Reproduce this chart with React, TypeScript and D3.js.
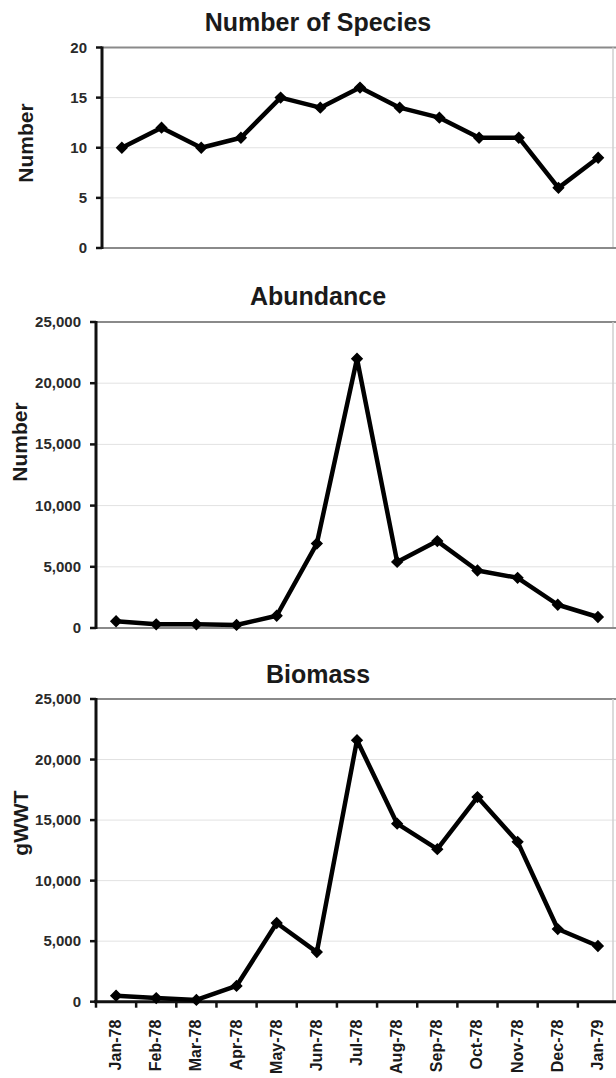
import React from "react";
import * as d3 from "d3";

const months = ["Jan-78", "Feb-78", "Mar-78", "Apr-78", "May-78", "Jun-78", "Jul-78", "Aug-78", "Sep-78", "Oct-78", "Nov-78", "Dec-78", "Jan-79"];
const species = [10, 12, 10, 11, 15, 14, 16, 14, 13, 11, 11, 6, 9];
const abundance = [550, 300, 300, 250, 1000, 6900, 22000, 5400, 7100, 4700, 4100, 1900, 900];
const biomass = [500, 300, 150, 1300, 6500, 4100, 21600, 14700, 12600, 16900, 13200, 6000, 4600];

const speciesTicks = [0, 5, 10, 15, 20];
const bigTicks = [0, 5000, 10000, 15000, 20000, 25000];

const FONT = "'Liberation Sans', Arial, sans-serif";

type PanelProps = {
  title: string;
  yLabel: string;
  values: number[];
  ticks: number[];
  max: number;
  x0: number;
  x1: number;
  yTop: number;
  yBot: number;
  titleY: number;
  yLabelX: number;
  yLabelY: number;
  showX: boolean;
  fmt: (v: number) => string;
};

function Panel(p: PanelProps) {
  const x = d3.scaleBand<string>().domain(months).range([p.x0, p.x1]).padding(0);
  const y = d3.scaleLinear().domain([0, p.max]).range([p.yBot, p.yTop]);
  const cx = (m: string) => (x(m) as number) + x.bandwidth() / 2;
  const line = d3
    .line<number>()
    .x((_, i) => cx(months[i]))
    .y((v) => y(v));
  const marker = d3.symbol().type(d3.symbolSquare).size(52)();
  return (
    <g>
      <text x={318} y={p.titleY} textAnchor="middle" fontFamily={FONT} fontWeight="bold" fontSize={25} fill="#1a1a1a">
        {p.title}
      </text>
      {p.ticks.map((t) => (
        <line key={"g" + t} x1={p.x0} x2={616} y1={y(t)} y2={y(t)} stroke={t === p.max ? "#8a8a8a" : "#e2e2e2"} strokeWidth={t === p.max ? 2 : 1} />
      ))}
      <line x1={613} x2={613} y1={p.yTop} y2={p.yBot} stroke="#cfcfcf" strokeWidth={1.5} />
      {!p.showX && <line x1={p.x0} x2={616} y1={p.yBot} y2={p.yBot} stroke="#8a8a8a" strokeWidth={2} />}
      {p.showX && (
        <g>
          <line x1={p.x0 - 2} x2={616} y1={p.yBot} y2={p.yBot} stroke="#111" strokeWidth={3} />
          {months.map((m) => (
            <line key={"xt" + m} x1={x(m) as number} x2={x(m) as number} y1={p.yBot} y2={p.yBot + 6} stroke="#111" strokeWidth={2.5} />
          ))}
          {months.map((m) => (
            <text
              key={"xl" + m}
              transform={`translate(${cx(m) + 5},${p.yBot + 18}) rotate(-90)`}
              textAnchor="end"
              fontFamily={FONT}
              fontWeight="bold"
              fontSize={16}
              fill="#1a1a1a"
            >
              {m}
            </text>
          ))}
        </g>
      )}
      <line x1={p.x0} x2={p.x0} y1={p.yTop - 1} y2={p.yBot + 1} stroke="#111" strokeWidth={3} />
      {p.ticks.map((t) => (
        <g key={"t" + t}>
          <line x1={p.x0 - 6} x2={p.x0} y1={y(t)} y2={y(t)} stroke="#111" strokeWidth={2.5} />
          <text x={p.x0 - 15} y={y(t) + 5} textAnchor="end" fontFamily={FONT} fontWeight="bold" fontSize={15} fill="#2a2a2a">
            {p.fmt(t)}
          </text>
        </g>
      ))}
      <text
        transform={`translate(${p.yLabelX + 7},${p.yLabelY}) rotate(-90)`}
        textAnchor="middle"
        fontFamily={FONT}
        fontWeight="bold"
        fontSize={21}
        fill="#1a1a1a"
      >
        {p.yLabel}
      </text>
      <path d={line(p.values) || ""} fill="none" stroke="#000" strokeWidth={4.5} strokeLinejoin="round" />
      {p.values.map((v, i) => (
        <path
          key={"m" + i}
          d={marker || ""}
          transform={`translate(${cx(months[i])},${y(v)}) rotate(45)`}
          fill="#000"
          stroke="#000"
          strokeWidth={1.5}
        />
      ))}
    </g>
  );
}

export default function App() {
  const plain = (v: number) => String(v);
  const comma = d3.format(",");
  return (
    <svg width={616} height={1078} style={{ position: "absolute", left: 0, top: 0, background: "#fff" }}>
      <rect x={0} y={0} width={616} height={1078} fill="#fff" />
      <Panel
        title="Number of Species"
        yLabel="Number"
        values={species}
        ticks={speciesTicks}
        max={20}
        x0={102}
        x1={618}
        yTop={47.5}
        yBot={248}
        titleY={31}
        yLabelX={26}
        yLabelY={143}
        showX={false}
        fmt={plain}
      />
      <Panel
        title="Abundance"
        yLabel="Number"
        values={abundance}
        ticks={bigTicks}
        max={25000}
        x0={96}
        x1={618}
        yTop={322}
        yBot={628}
        titleY={305}
        yLabelX={20}
        yLabelY={442}
        showX={false}
        fmt={comma}
      />
      <Panel
        title="Biomass"
        yLabel="gWWT"
        values={biomass}
        ticks={bigTicks}
        max={25000}
        x0={96}
        x1={618}
        yTop={699}
        yBot={1001.7}
        titleY={683}
        yLabelX={21}
        yLabelY={823}
        showX={true}
        fmt={comma}
      />
    </svg>
  );
}
